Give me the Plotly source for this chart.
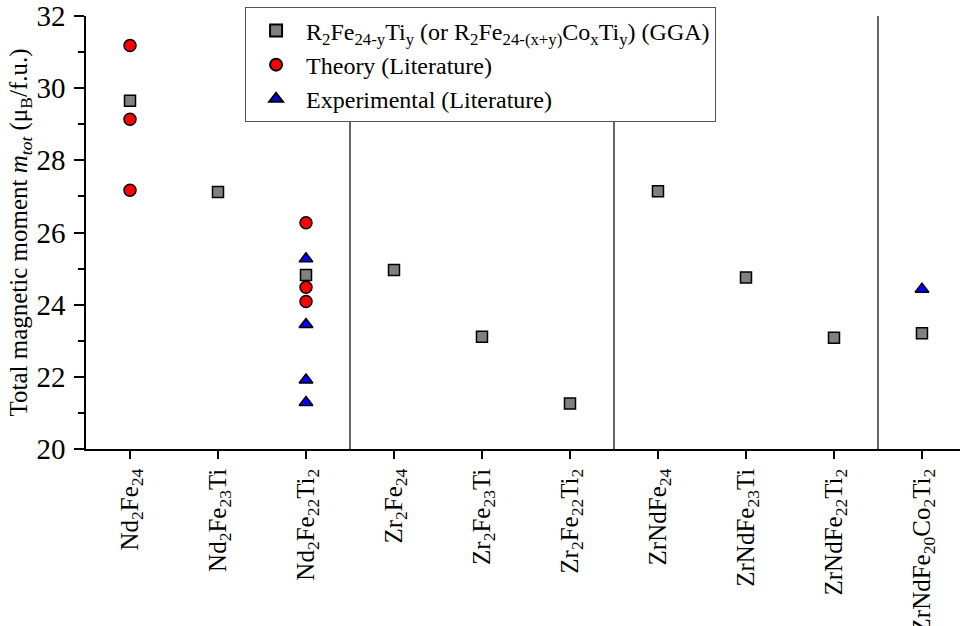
import plotly.graph_objects as go

# Compounds along the x axis (rotated tick labels with subscripts)
compounds = [
    "Nd<sub>2</sub>Fe<sub>24</sub>",
    "Nd<sub>2</sub>Fe<sub>23</sub>Ti",
    "Nd<sub>2</sub>Fe<sub>22</sub>Ti<sub>2</sub>",
    "Zr<sub>2</sub>Fe<sub>24</sub>",
    "Zr<sub>2</sub>Fe<sub>23</sub>Ti",
    "Zr<sub>2</sub>Fe<sub>22</sub>Ti<sub>2</sub>",
    "ZrNdFe<sub>24</sub>",
    "ZrNdFe<sub>23</sub>Ti",
    "ZrNdFe<sub>22</sub>Ti<sub>2</sub>",
    "ZrNdFe<sub>20</sub>Co<sub>2</sub>Ti<sub>2</sub>",
]

# GGA results, one per compound
gga_values = [29.65, 27.12, 24.82, 24.96, 23.11, 21.26, 27.14, 24.75, 23.08, 23.21]

# Literature: theory
theory_compounds = [compounds[0], compounds[0], compounds[0],
                    compounds[2], compounds[2], compounds[2]]
theory_values = [31.18, 29.14, 27.17, 26.27, 24.48, 24.09]

# Literature: experiment
exp_compounds = [compounds[2], compounds[2], compounds[2], compounds[2], compounds[9]]
exp_values = [25.27, 23.45, 21.91, 21.29, 24.43]

# Group separators (between compound families)
separators = [2.5, 5.5, 8.5]

y_ticks = [20, 22, 24, 26, 28, 30, 32]

FONT = "Times New Roman"
FS = 25

fig = go.Figure()

fig.add_trace(go.Scatter(
    x=compounds, y=gga_values, mode="markers",
    name="R<sub>2</sub>Fe<sub>24-y</sub>Ti<sub>y</sub> (or R<sub>2</sub>Fe<sub>24-(x+y)</sub>Co<sub>x</sub>Ti<sub>y</sub>) (GGA)",
    marker=dict(symbol="square", size=11, color="#808080",
                line=dict(color="black", width=1.5)),
))
fig.add_trace(go.Scatter(
    x=theory_compounds, y=theory_values, mode="markers",
    name="Theory (Literature)",
    marker=dict(symbol="circle", size=12, color="#ff0000",
                line=dict(color="black", width=1.5)),
))
fig.add_trace(go.Scatter(
    x=exp_compounds, y=exp_values, mode="markers",
    name="Experimental (Literature)",
    marker=dict(symbol="triangle-up", size=12, color="#0000ff",
                line=dict(color="black", width=1.5)),
))

for xs in separators:
    fig.add_shape(type="line", xref="x", yref="y", x0=xs, x1=xs, y0=20, y1=32,
                  line=dict(color="#333333", width=1.5), layer="above")

fig.update_layout(
    width=960, height=626,
    margin=dict(l=86, r=0, t=16, b=177, autoexpand=False),
    paper_bgcolor="white", plot_bgcolor="white",
    font=dict(family=FONT, size=FS, color="black"),
    showlegend=True,
    legend=dict(
        x=0.182, y=1.02, xanchor="left", yanchor="top",
        bgcolor="white", bordercolor="#555555", borderwidth=1,
        font=dict(family=FONT, size=24, color="black"),
        tracegroupgap=0, itemsizing="constant", itemwidth=50,
    ),
    xaxis=dict(
        type="category", categoryorder="array", categoryarray=compounds,
        range=[-0.5, 9.432], automargin=False,
        showline=True, linecolor="black", linewidth=1.5,
        ticks="outside", ticklen=8, tickwidth=1.5, tickcolor="black",
        tickangle=-90, showgrid=False, zeroline=False,
        tickfont=dict(family=FONT, size=FS, color="black"),
    ),
    yaxis=dict(
        range=[20, 32], tickvals=y_ticks, automargin=False,
        showline=True, linecolor="black", linewidth=1.5,
        ticks="outside", ticklen=10, tickwidth=1.5, tickcolor="black",
        ticklabelstandoff=3,
        minor=dict(dtick=1, ticks="outside", ticklen=6, tickwidth=1.5,
                   tickcolor="black", showgrid=False),
        showgrid=False, zeroline=False,
        tickfont=dict(family=FONT, size=29, color="black"),
        title=dict(text="Total magnetic moment <i>m<sub>tot</sub></i> (μ<sub>B</sub>/f.u.)",
                   font=dict(family=FONT, size=25, color="black"), standoff=2),
    ),
)

fig.write_html("out.html")
